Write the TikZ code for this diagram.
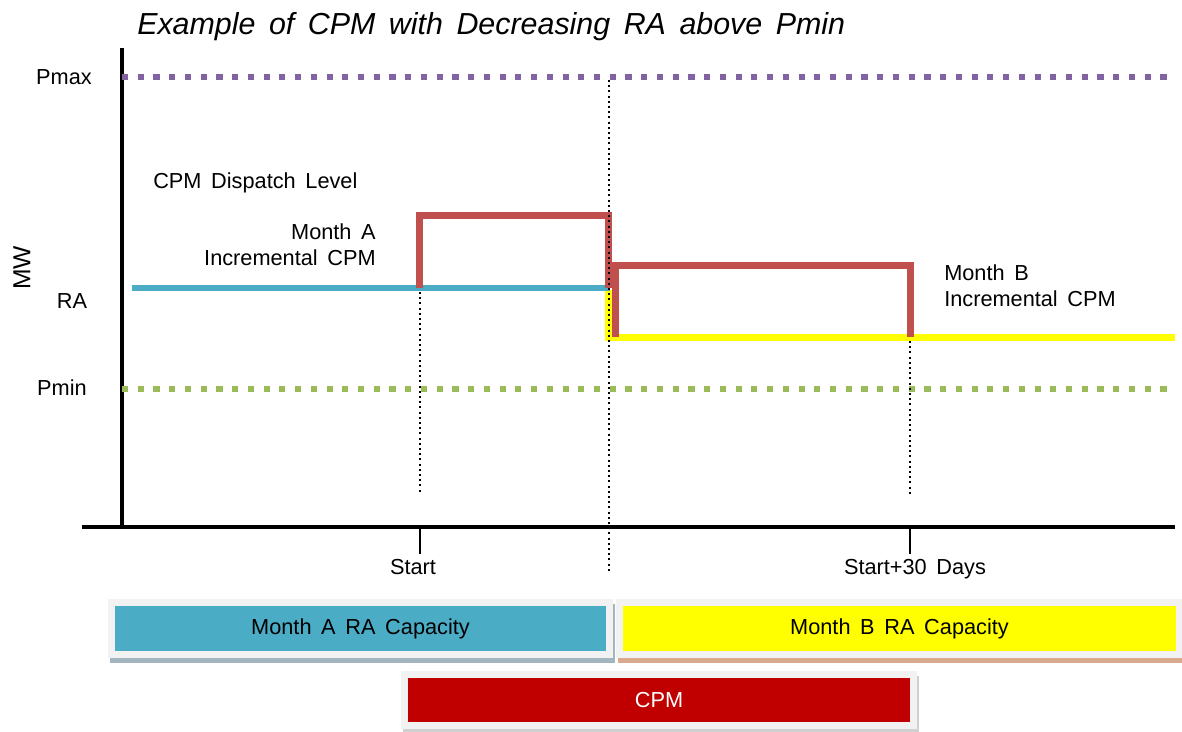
\documentclass[tikz,border=0pt]{standalone}
\usepackage{fontspec}
\setmainfont{Liberation Sans}[WordSpace=1.6]
\definecolor{pmaxpurple}{HTML}{8064A2}
\definecolor{pmingreen}{HTML}{9BBB59}
\definecolor{racyan}{HTML}{4BACC6}
\definecolor{rayellow}{HTML}{FFFF00}
\definecolor{cpmline}{HTML}{C0504D}
\definecolor{cpmfill}{HTML}{C00000}
\definecolor{framegray}{HTML}{F2F2F2}
\definecolor{shadowa}{HTML}{A3B6BF}
\definecolor{shadowb}{HTML}{D9A98E}
\definecolor{shadowc}{HTML}{D0D0D0}
\begin{document}
\begin{tikzpicture}[x=0.75pt, y=-0.75pt,
  lbl/.style={font=\fontsize{16.3}{19.5}\selectfont, inner sep=0pt},
  levelline/.style={line width=4.6pt, dash pattern=on 4.6pt off 7.2pt},
  guide/.style={line width=1.5pt, dash pattern=on 1.5pt off 2.4pt},
  axis/.style={line width=2.3pt},
  capbox/.style n args={2}{lbl, fill=#1, inner sep=0pt, minimum height=33.75pt,
    preaction={draw=#2, line width=11pt, transform canvas={shift={(1.5pt,-3.75pt)}}},
    preaction={draw=framegray, line width=11pt}}]
        \useasboundingbox (0,0) rectangle (1182,732);
        % title and axis labels
        \node[anchor=west, inner sep=0pt, font=\fontsize{22.8}{27}\selectfont\itshape] (title) at (137, 27) {Example of CPM with Decreasing RA above Pmin};
        \node[lbl, rotate=90, font=\fontsize{18.5}{22}\selectfont] (mw) at (22, 268) {MW};
        \node[lbl] (pmax) at (64, 77) {Pmax};
        \node[lbl] (ra) at (72, 301) {RA};
        \node[lbl] (pmin) at (62, 388) {Pmin};
        % axes
        \coordinate (ytop) at (122, 48);
        \coordinate (orig) at (122, 527);
        \coordinate (xleft) at (82, 527);
        \coordinate (xright) at (1175, 527);
        \draw[axis] (ytop) -- (orig);
        \draw[axis] (xleft) -- (xright);
        % limit levels
        \coordinate (pmaxa) at (122, 77);
        \coordinate (pmaxb) at (1170, 77);
        \coordinate (pmina) at (122, 389);
        \coordinate (pminb) at (1170, 389);
        \draw[levelline, pmaxpurple] (pmaxa) -- (pmaxb);
        \draw[levelline, pmingreen] (pmina) -- (pminb);
        % RA levels
        \coordinate (raa1) at (132, 288);
        \coordinate (raa2) at (610, 288);
        \coordinate (rab0) at (608.5, 290);
        \coordinate (rab1) at (608.5, 337);
        \coordinate (rab2) at (1175, 337);
        \draw[line width=5.25pt, rayellow] (rab0) -- (rab1) -- (rab2);
        \draw[line width=4.5pt, racyan] (raa1) -- (raa2);
        % CPM dispatch steps
        \coordinate (ca1) at (419, 288);
        \coordinate (ca2) at (419, 215);
        \coordinate (ca3) at (608, 215);
        \coordinate (ca4) at (608, 288);
        \coordinate (cb1) at (615.5, 337);
        \coordinate (cb2) at (615.5, 265.5);
        \coordinate (cb3) at (910, 265.5);
        \coordinate (cb4) at (910, 337);
        \draw[line width=5.25pt, cpmline] (ca1) -- (ca2) -- (ca3) -- (ca4);
        \draw[line width=5.25pt, cpmline] (cb1) -- (cb2) -- (cb3) -- (cb4);
        % guides and ticks
        \coordinate (ga1) at (420, 292);
        \coordinate (ga2) at (420, 493);
        \coordinate (gm1) at (609, 80);
        \coordinate (gm2) at (609, 572);
        \coordinate (gb1) at (910, 341);
        \coordinate (gb2) at (910, 495);
        \draw[guide] (ga1) -- (ga2);
        \draw[guide] (gm1) -- (gm2);
        \draw[guide] (gb1) -- (gb2);
        \coordinate (ta1) at (420, 527);
        \coordinate (ta2) at (420, 554);
        \coordinate (tb1) at (910, 527);
        \coordinate (tb2) at (910, 554);
        \draw[line width=1.5pt] (ta1) -- (ta2);
        \draw[line width=1.5pt] (tb1) -- (tb2);
        \node[lbl] (start) at (413, 567) {Start};
        \node[lbl] (start30) at (915, 569) {Start+30 Days};
        % chart texts
        \node[lbl, anchor=west] (disp) at (153, 183) {CPM Dispatch Level};
        \node[lbl, anchor=east, align=right] (inca) at (376, 245) {Month A\\Incremental CPM};
        \node[lbl, anchor=west, align=left] (incb) at (944, 286) {Month B\\Incremental CPM};
        % capacity boxes
        \node[capbox={racyan}{shadowa}, minimum width=368.25pt] (capa) at (360.5, 628.5) {Month A RA Capacity};
        \node[capbox={rayellow}{shadowb}, minimum width=414.75pt] (capb) at (899.5, 628.5) {Month B RA Capacity};
        \node[capbox={cpmfill}{shadowc}, text=white, minimum width=376.5pt, minimum height=33pt] (cpm) at (659, 700) {CPM};
        \end{tikzpicture}
\end{document}
